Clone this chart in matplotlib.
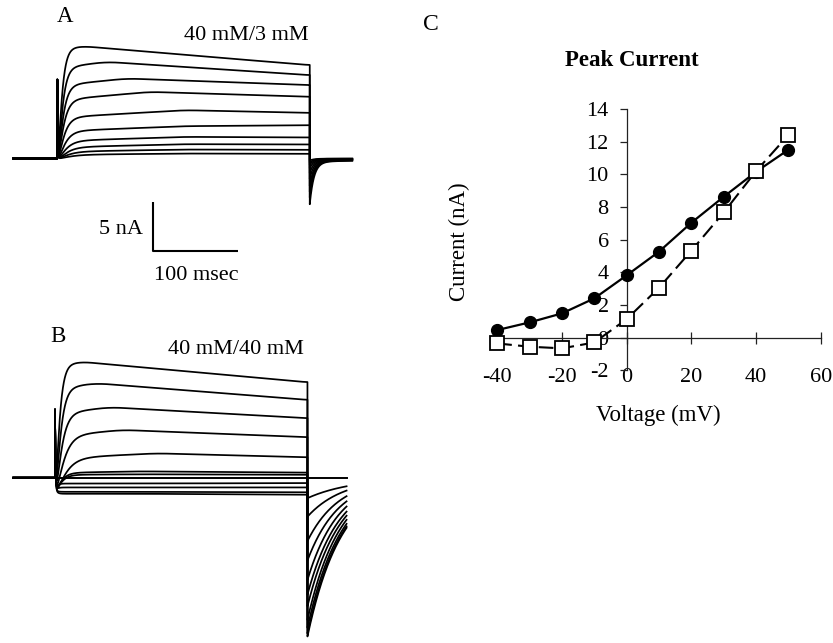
import numpy as np
import matplotlib
matplotlib.use("Agg")
import matplotlib.pyplot as plt

plt.rcParams['font.family'] = ['Liberation Serif', 'DejaVu Serif']
plt.rcParams['axes.unicode_minus'] = False

# ---------------- Panel C data (peak current vs voltage) ----------------
voltage_mV = [-40, -30, -20, -10, 0, 10, 20, 30, 40, 50]
peak_40_3 = [0.47, 0.94, 1.49, 2.41, 3.82, 5.27, 7.04, 8.63, 10.16, 11.51]
peak_40_40 = [-0.35, -0.55, -0.65, -0.29, 1.14, 3.06, 5.33, 7.67, 10.2, 12.41]
x_ticks = [-40, -20, 0, 20, 40, 60]
y_ticks = [-2, 0, 2, 4, 6, 8, 10, 12, 14]

# ---------------- Panel A traces (40 mM/3 mM), values in nA, times in ms ----------------
step_ms = 297
A_start = [11.3, 9.3, 7.5, 6.0, 4.2, 2.8, 1.8, 1.15, 0.7, 0.38]
A_peak = [11.53, 9.92, 8.21, 6.84, 4.96, 3.32, 2.22, 1.47, 0.92, 0.51]
A_tpeak = [29, 58, 82, 109, 150, 150, 150, 150, 150, 150]
A_end = [9.58, 8.55, 7.53, 6.33, 4.68, 3.42, 2.16, 1.44, 0.89, 0.48]
A_tau = [4, 4.5, 5, 5.5, 6, 7, 8, 9, 10, 12]
A_tail0 = [-4.7, -4.0, -3.4, -2.8, -2.1, -1.5, -1.0, -0.65, -0.4, -0.2]
A_spike = 8.1

# ---------------- Panel B traces (40 mM/40 mM) ----------------
B_start = [11.5, 9.2, 6.6, 4.3, 2.0, 0.5, 0.3, -0.6, -1.0, -1.45, -1.65]
B_peak = [11.91, 9.69, 7.23, 4.9, 2.5, 0.65, 0.35, -0.6, -1.0, -1.45, -1.65]
B_tpeak = [29, 49, 65, 80, 120, 100, 100, 100, 100, 100, 100]
B_end = [9.79, 7.98, 6.1, 4.15, 2.09, 0.52, 0.3, -0.55, -1.0, -1.5, -1.75]
B_tau = [4, 5, 6, 8, 10, 6, 6, 2, 2, 2, 2]
B_tail0 = [-16.3, -16.0, -15.4, -14.6, -13.2, -12.0, -10.5, -8.5, -6.5, -4.0, -2.1]
B_tail48 = [-4.9, -4.75, -4.5, -4.1, -3.7, -3.3, -2.8, -2.3, -1.8, -1.26, -0.85]
B_ref_level = 0.0
B_inst = -1.3
B_spike = 7.0

W, H = 833, 643
fig = plt.figure(figsize=(W / 100, H / 100), dpi=100)


def px_axes(left, top, right, bottom):
    return fig.add_axes([left / W, 1 - bottom / H, (right - left) / W, (bottom - top) / H])


def ftext(x, y, s, **kw):
    fig.text(x / W, 1 - y / H, s, **kw)


def smooth(y, n):
    k = np.ones(n) / n
    yp = np.concatenate([np.full(n, y[0]), y, np.full(n, y[-1])])
    return np.convolve(yp, k, mode='same')[n:-n]


def step_part(t, s0, pk, tpk, end, tau, inst, spike):
    S = np.interp(t, [0, tpk, step_ms], [s0, pk, end])
    S = smooth(S, 301)  # ~30 ms smoothing of the slow envelope
    act = (1 - np.exp(-t / tau)) ** 2
    base = inst * (1 - np.exp(-t / 1.0))
    return base * (1 - act) + S * act + spike * np.exp(-t / 0.5)


lw_tr = 1.25

# ---------------- Panel A ----------------
x0A, y0A, pxms, pxnA = 57.3, 158.5, 0.85, 9.74
axA = px_axes(0, 0, 420, 290)
axA.set_xlim(-x0A / pxms, (420 - x0A) / pxms)
axA.set_ylim((y0A - 290) / pxnA, y0A / pxnA)
axA.axis('off')
t_pre = np.array([-52.0, -0.01])
t_step = np.arange(0, step_ms + 0.001, 0.1)
t_post = np.arange(0, 50.01, 0.1)
for i in range(len(A_peak)):
    I_step = step_part(t_step, A_start[i], A_peak[i], A_tpeak[i], A_end[i], A_tau[i], 0.0, A_spike)
    I_post = A_tail0[i] * (0.93 * np.exp(-t_post / 5.0) + 0.07 * np.exp(-t_post / 150.0))
    tt = np.concatenate([t_pre, t_step, step_ms + 0.01 + t_post])
    II = np.concatenate([[0, 0], I_step, I_post])
    axA.plot(tt, II, color='black', lw=lw_tr, solid_joinstyle='round')
# scale bar
axA.plot([113, 113, 213], [-4.45, -9.45, -9.45], color='black', lw=1.5, solid_capstyle='butt')
ftext(143, 230, '5 nA', ha='right', va='center', fontsize=16)
ftext(196.7, 275, '100 msec', ha='center', va='center', fontsize=16)
ftext(65, 17, 'A', ha='center', va='center', fontsize=16.5)
ftext(246, 35, '40 mM/3 mM', ha='center', va='center', fontsize=16)

# ---------------- Panel B ----------------
x0B, y0B = 55.0, 477.7
axB = px_axes(0, 300, 420, 643)
axB.set_xlim(-x0B / pxms, (420 - x0B) / pxms)
axB.set_ylim((y0B - 643) / pxnA, (y0B - 300) / pxnA)
axB.axis('off')
t_preB = np.array([-49.0, -0.01])
t_postB = np.arange(0, 46.01, 0.1)
for i in range(len(B_peak)):
    I_step = step_part(t_step, B_start[i], B_peak[i], B_tpeak[i], B_end[i], B_tau[i], B_inst, B_spike)
    tau_tail = 48.0 / np.log(B_tail0[i] / B_tail48[i])
    I_post = B_tail0[i] * np.exp(-t_postB / tau_tail)
    tt = np.concatenate([t_preB, t_step, step_ms + 0.01 + t_postB])
    II = np.concatenate([[0, 0], I_step, I_post])
    axB.plot(tt, II, color='black', lw=lw_tr, solid_joinstyle='round')
axB.plot([-49, step_ms + 46], [B_ref_level, B_ref_level], color='black', lw=1.4)
ftext(58, 336, 'B', ha='center', va='center', fontsize=16.5)
ftext(236, 350, '40 mM/40 mM', ha='center', va='center', fontsize=16)

# ---------------- Panel C ----------------
axC = px_axes(497.3, 109, 820.8, 370.4)
axC.set_xlim(-40, 60)
axC.set_ylim(-2, 14)
for s in ('top', 'right'):
    axC.spines[s].set_visible(False)
axC.spines['left'].set_position(('data', 0))
axC.spines['bottom'].set_position(('data', 0))
for s in ('left', 'bottom'):
    axC.spines[s].set_linewidth(0.9)
    axC.spines[s].set_color('#222222')
axC.set_xticks(x_ticks)
axC.set_yticks(y_ticks)
axC.tick_params(axis='x', direction='inout', length=8, width=0.9, color='#222222', labelbottom=False)
axC.tick_params(axis='y', direction='out', length=5, width=0.9, color='#222222', pad=8, labelsize=16)
sec = axC.secondary_xaxis(0)
sec.set_xticks(x_ticks)
sec.tick_params(length=0, pad=-2, labelsize=16)
sec.spines['bottom'].set_visible(False)

axC.plot(voltage_mV, peak_40_3, '-o', color='black', lw=1.6, ms=8.5, clip_on=False, zorder=3)
axC.plot(voltage_mV, peak_40_40, linestyle=(0, (7, 3)), marker='s', color='black', mfc='white',
         mec='black', mew=1.3, ms=10, lw=1.5, clip_on=False, zorder=4)

ftext(430.5, 24, 'C', ha='center', va='center', fontsize=17)
ftext(632, 61, 'Peak Current', ha='center', va='center', fontsize=16.5, fontweight='bold')
ftext(459.3, 241.7, 'Current (nA)', ha='center', va='center', fontsize=16.5, rotation=90)
ftext(658, 415, 'Voltage (mV)', ha='center', va='center', fontsize=16.5)

fig.savefig('out.png', dpi=100)
